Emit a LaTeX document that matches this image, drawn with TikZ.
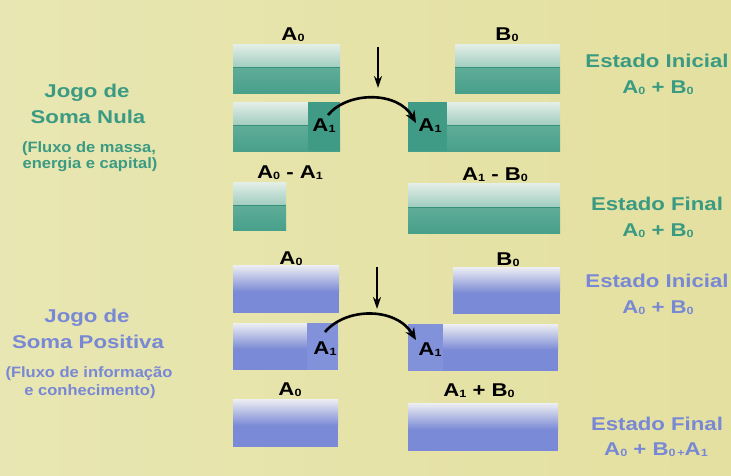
\documentclass[tikz,border=0pt]{standalone}
\usepackage{fontspec}
\setmainfont{Liberation Sans}
\newfontfamily\bigf{Liberation Sans}[FakeStretch=1.2]
\newfontfamily\smallf{Liberation Sans}[FakeStretch=1.1]
\usetikzlibrary{arrows.meta,calc}
\definecolor{bgl}{HTML}{E8E6B2}
\definecolor{bgr}{HTML}{E4E0A0}
\definecolor{gtxt}{HTML}{3A9A82}
\definecolor{gtop}{HTML}{E4EFE8}
\definecolor{gmid}{HTML}{56A792}
\definecolor{glow}{HTML}{5EAC98}
\definecolor{gbot}{HTML}{48A08A}
\definecolor{gline}{HTML}{35907A}
\definecolor{gsq}{HTML}{3F9A86}
\definecolor{btxt}{HTML}{7888D4}
\definecolor{btop}{HTML}{EEEFF2}
\definecolor{bbot}{HTML}{7B8AD6}
\definecolor{bsq}{HTML}{8292DA}
\newcommand\sbx[1]{\raisebox{-1.2pt}{\fontsize{10.5}{10}\selectfont #1}}
\tikzset{
  gbar/.style={rectangle, inner sep=0pt, outer sep=0pt, anchor=north west,
    path picture={
      \shade[top color=gtop, bottom color=gmid]
        (path picture bounding box.north west) rectangle
        ($(path picture bounding box.north east)!0.47!(path picture bounding box.south east)$);
      \fill[gline]
        ($(path picture bounding box.north west)!0.47!(path picture bounding box.south west)$) rectangle
        ($(path picture bounding box.north east)!0.51!(path picture bounding box.south east)$);
      \shade[top color=glow, bottom color=gbot]
        ($(path picture bounding box.north west)!0.51!(path picture bounding box.south west)$) rectangle
        (path picture bounding box.south east);
    }},
  bbar/.style={rectangle, inner sep=0pt, outer sep=0pt, anchor=north west,
    path picture={
      \fill[bbot] (path picture bounding box.north west) rectangle (path picture bounding box.south east);
      \shade[top color=btop, bottom color=bbot]
        (path picture bounding box.north west) rectangle
        ($(path picture bounding box.north east)!0.55!(path picture bounding box.south east)$);
    }},
  gsquare/.style={rectangle, inner sep=0pt, outer sep=0pt, anchor=north west, fill=gsq},
  bsquare/.style={rectangle, inner sep=0pt, outer sep=0pt, anchor=north west, fill=bsq},
  lbl/.style={font=\bigf\bfseries\fontsize{18.5}{20}\selectfont, inner sep=0pt, anchor=base},
  slbl/.style={font=\smallf\bfseries\fontsize{15}{16}\selectfont, inner sep=0pt, anchor=base},
  dnarrow/.style={line width=2pt, -{Stealth[length=12pt,width=8pt]}},
  curarrow/.style={line width=2.6pt, -{Stealth[length=12pt,width=10pt]}},
}
\begin{document}
\begin{tikzpicture}[x=1pt,y=-1pt]
\useasboundingbox (0,0) rectangle (731,475);
\shade[left color=bgl, right color=bgr] (0,0) rectangle (731,475);

% ---------- green (zero-sum) ----------
\node[gbar, minimum width=107pt, minimum height=49pt] (gb1) at (233,44) {};
\node[gbar, minimum width=105pt, minimum height=49pt] (gb2) at (455,44) {};
\node[gbar, minimum width=107pt, minimum height=49pt] (gb3) at (233,102) {};
\node[gsquare, minimum width=32pt, minimum height=49pt] (gs3) at (308,102) {};
\node[gbar, minimum width=152pt, minimum height=49pt] (gb4) at (408,102) {};
\node[gsquare, minimum width=39pt, minimum height=49pt] (gs4) at (408,102) {};
\node[gbar, minimum width=53pt, minimum height=48pt] (gb5) at (233,182) {};
\node[gbar, minimum width=152pt, minimum height=50pt] (gb6) at (408,183) {};

\node[lbl] (gA0) at (293,40) {A\sbx{0}};
\node[lbl] (gB0) at (507,40) {B\sbx{0}};
\node[lbl] (gA1l) at (324,131) {A\sbx{1}};
\node[lbl] (gA1r) at (430,131) {A\sbx{1}};
\node[lbl] (gdiffl) at (290,178) {A\sbx{0} - A\sbx{1}};
\node[lbl] (gdiffr) at (495,180) {A\sbx{1} - B\sbx{0}};

\coordinate (gds) at (378,47);
\coordinate (gde) at (378,88);
\draw[dnarrow] (gds) -- (gde);
\coordinate (gcs) at (328,115);
\coordinate (gce) at (416,123);
\draw[curarrow] (gcs) .. controls (348,91) and (398,91) .. (gce);

\node[lbl, text=gtxt] (gei) at (657,67) {Estado Inicial};
\node[lbl, text=gtxt] (geis) at (658,93) {A\sbx{0} + B\sbx{0}};
\node[lbl, text=gtxt] (gef) at (657,210) {Estado Final};
\node[lbl, text=gtxt] (gefs) at (658,236) {A\sbx{0} + B\sbx{0}};

\node[lbl, text=gtxt] (gj1) at (87,97) {Jogo de};
\node[lbl, text=gtxt] (gj2) at (88,123) {Soma Nula};
\node[slbl, text=gtxt] (gf1) at (89,152) {(Fluxo de massa,};
\node[slbl, text=gtxt] (gf2) at (90,168) {energia e capital)};

% ---------- blue (positive-sum) ----------
\node[bbar, minimum width=106pt, minimum height=48pt] (bb1) at (233,265) {};
\node[bbar, minimum width=107pt, minimum height=47pt] (bb2) at (453,267) {};
\node[bbar, minimum width=105pt, minimum height=47pt] (bb3) at (233,323) {};
\node[bsquare, minimum width=31pt, minimum height=47pt] (bs3) at (307,323) {};
\node[bbar, minimum width=150pt, minimum height=47pt] (bb4) at (408,324) {};
\node[bsquare, minimum width=35pt, minimum height=47pt] (bs4) at (408,324) {};
\node[bbar, minimum width=105pt, minimum height=48pt] (bb5) at (233,399) {};
\node[bbar, minimum width=150pt, minimum height=48pt] (bb6) at (408,403) {};

\node[lbl] (bA0) at (291,264) {A\sbx{0}};
\node[lbl] (bB0) at (508,265) {B\sbx{0}};
\node[lbl] (bA1l) at (325,354) {A\sbx{1}};
\node[lbl] (bA1r) at (430,355) {A\sbx{1}};
\node[lbl] (bA0b) at (290,395) {A\sbx{0}};
\node[lbl] (bsum) at (479,396) {A\sbx{1} + B\sbx{0}};

\coordinate (bds) at (377,267);
\coordinate (bde) at (377,309);
\draw[dnarrow] (bds) -- (bde);
\coordinate (bcs) at (325,332);
\coordinate (bce) at (416,340);
\draw[curarrow] (bcs) .. controls (346,307) and (396,307) .. (bce);

\node[lbl, text=btxt] (bei) at (657,287) {Estado Inicial};
\node[lbl, text=btxt] (beis) at (658,313) {A\sbx{0} + B\sbx{0}};
\node[lbl, text=btxt] (bef) at (657,430) {Estado Final};
\node[lbl, text=btxt] (befs) at (656,455) {A\sbx{0} + B\sbx{0\,+}A\sbx{1}};

\node[lbl, text=btxt] (bj1) at (87,322) {Jogo de};
\node[lbl, text=btxt] (bj2) at (88,348) {Soma Positiva};
\node[slbl, text=btxt] (bf1) at (89,377) {(Fluxo de informação};
\node[slbl, text=btxt] (bf2) at (90,395) {e conhecimento)};
\end{tikzpicture}
\end{document}
